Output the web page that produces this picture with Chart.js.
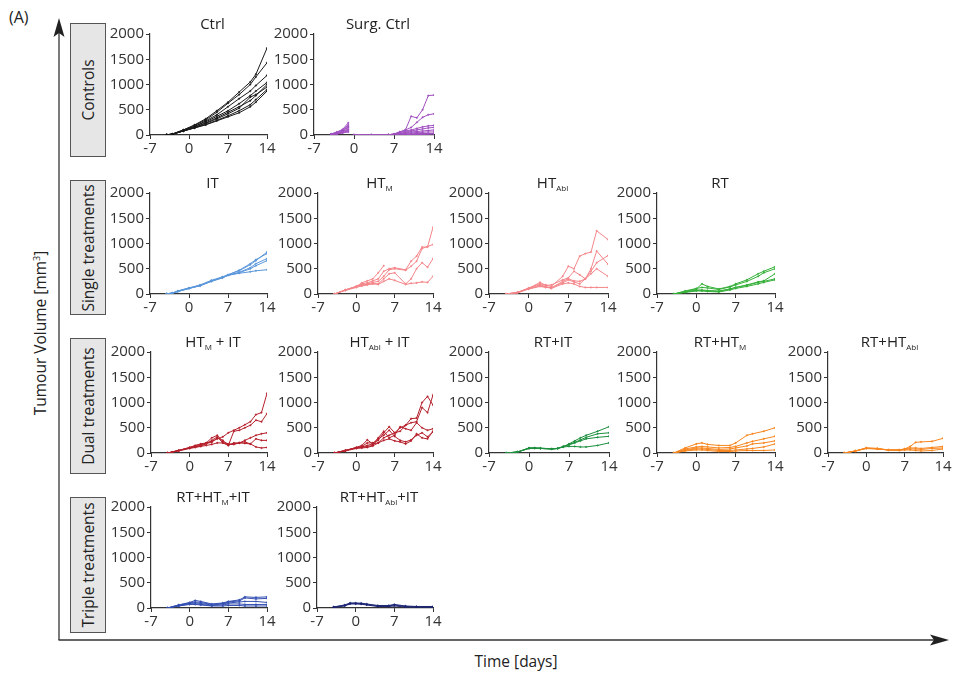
<!DOCTYPE html>
<html>
<head>
<meta charset="utf-8">
<script src="https://cdn.jsdelivr.net/npm/chart.js@4.4.1/dist/chart.umd.min.js"></script>
<style>
  body { margin: 0; background: #fff; font-family: "Open Sans", sans-serif; color: #222; }
  #page { position: relative; width: 957px; height: 673px; overflow: hidden; }
  .panel { position: absolute; }
  .title { position: absolute; font-size: 15px; white-space: nowrap; transform: translate(-50%, -50%); color: #222; }
  .title sub { font-size: 8px; vertical-align: -3px; }
  .rowbox { position: absolute; left: 70px; width: 36px; background: #e6e6e6; border: 1px solid #555; box-sizing: border-box; }
  .rowbox span { position: absolute; left: 50%; top: 50%; transform: translate(-50%, -50%) rotate(-90deg); white-space: nowrap; font-size: 15.5px; color: #222; }
  .lbl { position: absolute; font-size: 15.5px; color: #222; white-space: nowrap; }
  svg { position: absolute; left: 0; top: 0; }
</style>
</head>
<body>
<div id="page">
  <svg width="957" height="673">
    <line x1="59" y1="30" x2="59" y2="640" stroke="#333" stroke-width="1.3"/>
    <polygon points="59,18 53.5,37 59,33 64.5,37" fill="#222"/>
    <line x1="58.5" y1="640" x2="938" y2="640" stroke="#333" stroke-width="1.3"/>
    <polygon points="949,640 930,634.5 934,640 930,645.5" fill="#222"/>
  </svg>
  <div class="lbl" style="left:9px; top:6px; font-size:16px;">(A)</div>
  <div class="lbl" style="left:40px; top:333px; transform: translate(-50%,-50%) rotate(-90deg);">Tumour Volume [mm<sup style="font-size:9px">3</sup>]</div>
  <div class="lbl" style="left:516px; top:661px; transform: translate(-50%,-50%);">Time [days]</div>
  <div class="rowbox" style="top:23px; height:134px;"><span>Controls</span></div>
  <div class="rowbox" style="top:180px; height:135px;"><span>Single treatments</span></div>
  <div class="rowbox" style="top:338px; height:136px;"><span>Dual treatments</span></div>
  <div class="rowbox" style="top:497px; height:136px;"><span>Triple treatments</span></div>
</div>
<script>
// ---- data (days since treatment, tumour volume in mm3) ----
const xTicks = [-7, 0, 7, 14];
const yTicks = [0, 500, 1000, 1500, 2000];

const ctrlDays = [-4, -3, -1, 1, 3, 5, 7, 9, 11, 12, 14];
const ctrlVals = [
  [5, 20, 100, 200, 320, 480, 650, 850, 1050, 1200, 1720],
  [5, 20, 100, 190, 300, 450, 630, 800, 1000, 1150, 1430],
  [5, 15, 90, 170, 280, 400, 560, 720, 870, 980, 1180],
  [5, 15, 90, 170, 260, 370, 480, 620, 780, 870, 1040],
  [5, 15, 80, 150, 240, 340, 450, 560, 680, 780, 1000],
  [5, 15, 80, 150, 230, 320, 420, 530, 750, 800, 950],
  [5, 15, 80, 140, 210, 290, 380, 480, 600, 700, 900],
  [5, 15, 80, 140, 200, 280, 360, 440, 560, 650, 870]
];

const surgDays = [-4, -3, -2, -1, -0.5, 0, 3, 6, 7, 8, 9, 10, 11, 12, 13, 14];
const surgVals = [
  [20, 60, 110, 240, null, 0, 0, 5, 20, 60, 100, 370, 340, 500, 780, 790],
  [20, 50, 100, 200, null, 0, 0, 5, 20, 60, 100, 150, 250, 350, 400, 420],
  [15, 40, 90, 170, null, 0, 0, 5, 15, 40, 80, 100, 130, 160, 180, 190],
  [15, 40, 80, 150, null, 0, 0, 0, 10, 30, 60, 80, 100, 120, 140, 150],
  [10, 30, 70, 120, null, 0, 0, 0, 10, 20, 40, 60, 70, 80, 90, 100],
  [10, 30, 60, 100, null, 0, 0, 0, 5, 15, 30, 40, 50, 55, 60, 60],
  [10, 20, 50, 80, null, 0, 0, 0, 5, 10, 20, 25, 30, 30, 30, 30],
  [10, 20, 40, 60, null, 0, 0, 0, 0, 5, 10, 10, 10, 10, 5, 0]
];

const itDays = [-4, -3, -2, 0, 2, 4, 6, 7, 9, 11, 12, 14];
const itVals = [
  [5, 20, 60, 120, 180, 270, 340, 380, 460, 580, 660, 830],
  [5, 20, 60, 120, 170, 260, 330, 380, 470, 600, 680, 800],
  [5, 15, 50, 110, 170, 260, 330, 370, 430, 520, 600, 700],
  [5, 15, 50, 110, 170, 250, 320, 370, 420, 500, 560, 660],
  [5, 15, 50, 110, 160, 250, 320, 370, 410, 440, 460, 480]
];

const htmDays = [-4, -2, 0, 1, 2, 3, 4, 5, 6, 7, 9, 10, 11, 12, 13, 14];
const htmVals = [
  [0, 80, 150, 220, 260, 300, 420, 560, null, null, null, null, null, null, null, null],
  [0, 80, 150, 200, 220, 260, 300, 450, 500, 520, 480, 650, 750, 930, 930, 1320],
  [0, 80, 150, 180, 200, 230, 250, 350, 480, 500, 470, 550, 650, 900, 940, 980],
  [0, 80, 140, 170, 190, 210, 200, 300, 400, 420, 200, 300, 500, 620, 530, 700],
  [0, 70, 130, 160, 180, 200, 190, 250, 300, 270, 190, 210, 220, 240, 230, 350]
];

const htaDays = [-4, -2, 0, 2, 3, 4, 6, 7, 8, 9, 10, 11, 12, 14];
const htaVals = [
  [0, 30, 120, 200, 180, 150, 350, 550, 500, 750, 800, 830, 1250, 1080],
  [0, 30, 110, 230, 170, 180, 280, 320, 450, 380, 300, 500, 850, 590],
  [0, 30, 110, 180, 150, 120, 250, 300, 260, 250, 300, 450, 620, 760],
  [0, 30, 100, 150, 130, 130, 220, 280, 240, 200, 300, 400, 500, 350],
  [0, 20, 100, 160, 140, 110, 200, 220, 200, 150, 130, 130, 130, 130]
];

const rtDays = [-4, -2, 0, 1, 2, 4, 6, 7, 9, 11, 12, 14];
const rtVals = [
  [0, 50, 100, 200, 150, 100, 150, 200, 280, 400, 450, 540],
  [0, 60, 110, 130, 120, 90, 140, 180, 250, 350, 420, 500],
  [0, 40, 80, 80, 70, 60, 100, 130, 180, 240, 260, 400],
  [0, 40, 70, 70, 60, 50, 100, 130, 170, 230, 250, 300],
  [0, 30, 60, 60, 50, 40, 80, 110, 150, 200, 230, 280]
];

const htmItDays = [-4, -2, 0, 1, 2, 3, 4, 5, 6, 7, 8, 9, 10, 11, 12, 13, 14];
const htmItVals = [
  [0, 50, 110, 150, 180, 200, 230, 280, 320, 400, 450, 500, 560, 620, 760, 800, 1180],
  [0, 50, 110, 140, 170, 190, 210, 300, 250, 150, 430, 450, 500, 550, 650, 620, 780],
  [0, 50, 100, 130, 150, 200, 300, 350, 230, 180, 180, 200, 250, 300, 350, 380, 400],
  [0, 50, 100, 120, 140, 180, 250, 320, 200, 170, 170, 200, 220, 180, 280, 250, 250],
  [0, 40, 90, 110, 130, 150, 170, 200, 200, 150, 200, 200, 190, 180, 120, 100, 110]
];

const htaItDays = [-4, -2, 0, 1, 2, 3, 4, 5, 6, 7, 8, 9, 10, 11, 12, 13, 14];
const htaItVals = [
  [0, 50, 110, 150, 260, 180, 200, 300, 350, 400, 500, 550, 680, 690, 1000, 1120, 950],
  [0, 50, 110, 130, 200, 200, 250, 400, 520, 400, 430, 550, 600, 620, 900, 800, 1150],
  [0, 50, 100, 120, 150, 180, 300, 430, 300, 350, 520, 480, 450, 600, 500, 450, 480],
  [0, 50, 100, 110, 130, 150, 280, 350, 450, 330, 250, 220, 260, 350, 400, 320, 420],
  [0, 40, 90, 100, 110, 140, 200, 250, 280, 240, 220, 180, 240, 380, 300, 280, 430]
];

const rtItDays = [-4, -2, 0, 1, 2, 4, 5, 6, 7, 8, 9, 10, 12, 14];
const rtItVals = [
  [0, 20, 100, 100, 100, 80, 90, 120, 180, 240, 300, 350, 430, 520],
  [0, 20, 100, 100, 90, 80, 90, 130, 170, 210, 260, 310, 380, 400],
  [0, 20, 90, 95, 90, 80, 90, 130, 160, 200, 240, 280, 310, 330],
  [0, 20, 90, 95, 90, 80, 90, 120, 130, 130, 120, 120, 150, 200]
];

const rtHtmDays = [-4, -2, 0, 1, 2, 4, 6, 7, 9, 10, 12, 14];
const rtHtmVals = [
  [0, 100, 180, 200, 170, 150, 150, 200, 350, 380, 430, 500],
  [0, 80, 120, 130, 120, 100, 110, 130, 200, 230, 280, 330],
  [0, 60, 100, 100, 90, 70, 80, 100, 140, 180, 200, 240],
  [0, 50, 80, 80, 70, 50, 50, 60, 80, 90, 120, 180],
  [0, 40, 60, 60, 50, 30, 30, 40, 50, 50, 50, 60]
];

const rtHtaDays = [-4, -2, 0, 2, 4, 6, 7, 8, 9, 10, 12, 14];
const rtHtaVals = [
  [0, 40, 100, 90, 60, 60, 80, 130, 210, 220, 230, 290],
  [0, 40, 100, 90, 60, 60, 80, 100, 100, 90, 110, 130],
  [0, 40, 90, 80, 60, 60, 70, 80, 80, 70, 90, 100],
  [0, 40, 90, 80, 60, 50, 60, 60, 50, 40, 50, 80]
];

const triMDays = [-4, -2, 0, 1, 2, 4, 6, 7, 9, 10, 12, 14];
const triMVals = [
  [0, 60, 110, 150, 130, 80, 100, 130, 160, 220, 210, 220],
  [0, 60, 100, 120, 110, 70, 90, 120, 140, 200, 180, 190],
  [0, 50, 90, 100, 90, 60, 80, 100, 120, 130, 130, 110],
  [0, 40, 80, 80, 70, 50, 60, 80, 80, 70, 70, 70],
  [0, 40, 70, 70, 60, 40, 40, 50, 50, 40, 40, 40]
];

const triADays = [-4, -2, -1, 0, 1, 2, 4, 6, 7, 9, 11, 14];
const triAVals = [
  [20, 60, 100, 100, 95, 80, 50, 50, 70, 40, 30, 30],
  [20, 50, 90, 90, 85, 70, 40, 40, 60, 30, 25, 25],
  [10, 40, 80, 80, 75, 60, 30, 30, 40, 20, 20, 15]
];

// ---- layout: axis x, plot width, top of plot (y=2000) ----
const panels = [
  { title: 'Ctrl', days: ctrlDays, vals: ctrlVals, color: '#1a1a1a', ax: 150, pw: 117, ty: 33 },
  { title: 'Surg. Ctrl', days: surgDays, vals: surgVals, color: '#a050c0', ax: 314, pw: 120, ty: 33 },
  { title: 'IT', days: itDays, vals: itVals, color: '#5b97da', ax: 150, pw: 117, ty: 192 },
  { title: 'HT<sub>M</sub>', days: htmDays, vals: htmVals, color: '#f4868a', ax: 318, pw: 115, ty: 192 },
  { title: 'HT<sub>Abl</sub>', days: htaDays, vals: htaVals, color: '#f4868a', ax: 489, pw: 119, ty: 192 },
  { title: 'RT', days: rtDays, vals: rtVals, color: '#36b03a', ax: 657, pw: 118, ty: 192 },
  { title: 'HT<sub>M</sub> + IT', days: htmItDays, vals: htmItVals, color: '#b5202c', ax: 151, pw: 116, ty: 351 },
  { title: 'HT<sub>Abl</sub> + IT', days: htaItDays, vals: htaItVals, color: '#b5202c', ax: 318, pw: 115, ty: 351 },
  { title: 'RT+IT', days: rtItDays, vals: rtItVals, color: '#1d8f3e', ax: 489, pw: 120, ty: 351 },
  { title: 'RT+HT<sub>M</sub>', days: rtHtmDays, vals: rtHtmVals, color: '#f7861f', ax: 657, pw: 118, ty: 351 },
  { title: 'RT+HT<sub>Abl</sub>', days: rtHtaDays, vals: rtHtaVals, color: '#f7861f', ax: 828, pw: 115, ty: 351 },
  { title: 'RT+HT<sub>M</sub>+IT', days: triMDays, vals: triMVals, color: '#3550b2', ax: 151, pw: 116, ty: 506 },
  { title: 'RT+HT<sub>Abl</sub>+IT', days: triADays, vals: triAVals, color: '#1e2676', ax: 317, pw: 116, ty: 506 }
];

const YW = 46, XH = 26, PT = 10, PR = 12, PH = 102;
const page = document.getElementById('page');
Chart.defaults.font.family = '"Open Sans", sans-serif';
Chart.defaults.color = '#333';

panels.forEach(p => {
  const box = document.createElement('div');
  box.className = 'panel';
  box.style.left = (p.ax - YW) + 'px';
  box.style.top = (p.ty - PT) + 'px';
  box.style.width = (YW + p.pw + PR) + 'px';
  box.style.height = (PT + PH + XH) + 'px';
  const cv = document.createElement('canvas');
  box.appendChild(cv);
  page.appendChild(box);

  const t = document.createElement('div');
  t.className = 'title';
  t.innerHTML = p.title;
  t.style.left = (p.ax + p.pw / 2 + 4) + 'px';
  t.style.top = (p.ty - 10) + 'px';
  page.appendChild(t);

  new Chart(cv, {
    type: 'line',
    data: {
      datasets: p.vals.map(v => ({
        data: p.days.map((d, i) => ({ x: d, y: v[i] })),
        borderColor: p.color,
        backgroundColor: p.color,
        borderWidth: 1,
        pointRadius: 0.8,
        pointBorderWidth: 0.4,
        pointHoverRadius: 0,
        spanGaps: false,
        tension: 0
      }))
    },
    options: {
      responsive: true,
      maintainAspectRatio: false,
      animation: false,
      events: [],
      layout: { padding: { top: PT, right: PR, left: 0, bottom: 0 } },
      plugins: { legend: { display: false }, tooltip: { enabled: false } },
      scales: {
        x: {
          type: 'linear',
          min: -7,
          max: 14,
          afterBuildTicks: s => { s.ticks = xTicks.map(v => ({ value: v })); },
          afterFit: s => { s.height = XH; },
          grid: { drawOnChartArea: false, drawTicks: true, tickLength: 4, color: '#333' },
          border: { color: '#333', width: 1.2 },
          ticks: { font: { size: 15 }, color: '#333', padding: 1, maxRotation: 0, autoSkip: false,
                   callback: v => String(v) }
        },
        y: {
          min: 0,
          max: 2000,
          afterBuildTicks: s => { s.ticks = yTicks.map(v => ({ value: v })); },
          afterFit: s => { s.width = YW; },
          grid: { drawOnChartArea: false, drawTicks: true, tickLength: 4, color: '#333' },
          border: { color: '#333', width: 1.2 },
          ticks: { font: { size: 15 }, color: '#333', padding: 2, callback: v => String(v) }
        }
      }
    }
  });
});
</script>
</body>
</html>
